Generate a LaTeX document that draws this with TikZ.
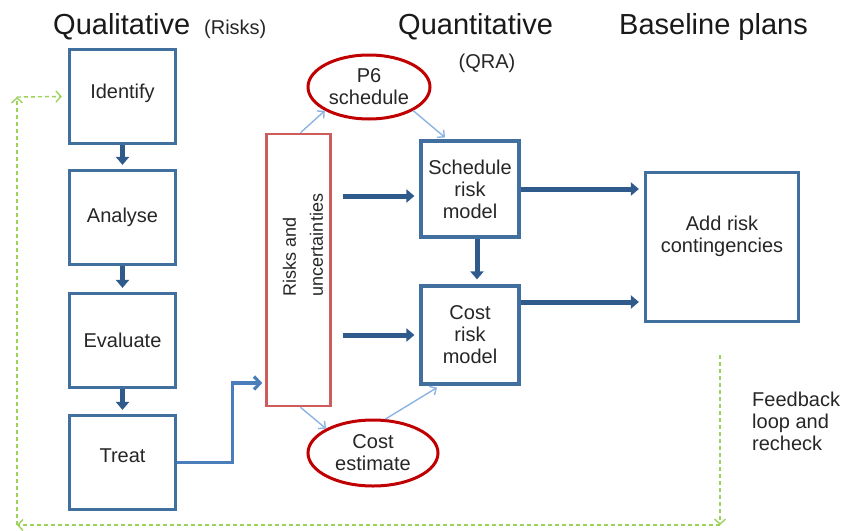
\documentclass[tikz,border=0pt]{standalone}
\usepackage{fontspec}
\setmainfont{Liberation Sans}
\usetikzlibrary{shapes.geometric,arrows.meta,calc}
\definecolor{boxblue}{HTML}{41709F}
\definecolor{arrowblue}{HTML}{2F5A8C}
\definecolor{thinblue}{HTML}{8DB3E2}
\definecolor{midblue}{HTML}{4A7EBB}
\definecolor{riskred}{HTML}{D05B5B}
\definecolor{ovalred}{HTML}{C00000}
\definecolor{loopgreen}{HTML}{9BD35A}

\begin{document}
\begin{tikzpicture}[x=1pt,y=-1pt,
  txt/.style={font=\fontsize{20}{22}\selectfont,text=black!85,align=center},
  stage/.style={txt,draw=boxblue,line width=3.2pt,minimum width=106pt,minimum height=94pt},
  qbox/.style={txt,draw=boxblue,line width=3.2pt,minimum width=98pt,minimum height=96pt},
  oval/.style={txt,ellipse,draw=ovalred,line width=3pt,inner sep=0pt},
  fatarrow/.style={draw=arrowblue,line width=5pt,-{Triangle[length=8pt,width=13pt]}},
  thinarrow/.style={draw=thinblue,line width=1.4pt,-{Straight Barb[length=5pt,width=10pt]}},
  feedline/.style={draw=loopgreen,line width=1.4pt,dash pattern=on 4pt off 3pt,-{Straight Barb[length=5pt,width=11pt]}},
  heading/.style={font=\fontsize{29}{31}\selectfont,text=black!90,anchor=base west,inner sep=0pt}]
	%\draw[help lines] (0,0) grid[step=50] (845,530);
	\useasboundingbox (0,0) rectangle (845,530);

	%TITLES
	\node[heading] (qual) at (53,34) {Qualitative};
	\node[txt,anchor=base west,inner sep=0pt] (risksttl) at (204,34) {(Risks)};
	\node[heading] (quant) at (398,34) {Quantitative};
	\node[txt,anchor=base,inner sep=0pt] (qra) at (487,68) {(QRA)};
	\node[heading] (baseline) at (619,34) {Baseline plans};

	%QUALITATIVE
	\node[stage] (identify) at (122.5,96.5) {Identify\\[-12pt]};
	\node[stage] (analyse) at (122.5,217.5) {Analyse};
	\node[stage] (evaluate) at (122.5,340.5) {Evaluate};
	\node[stage] (treat) at (122.5,462.5) {Treat\\[-8pt]};
	\foreach \a/\b in {identify/analyse,analyse/evaluate,evaluate/treat}
		\draw[fatarrow,line width=4.5pt,shorten >=4pt] (\a) -- (\b);

	\node[draw=riskred,line width=2.6pt,minimum width=64pt,minimum height=272pt] (risks) at (298.5,270) {};
	\node[rotate=90,align=left,font=\fontsize{18}{27}\selectfont,text=black!85] (riskstxt) at (303,245) {Risks and\\uncertainties};
	\draw[midblue,line width=3.2pt,-{Straight Barb[length=6pt,width=13pt]}] (treat.east) -- ++(55,0) |- ($(risks.west)+(-3,113)$);

	%QUANTITATIVE
	\node[oval,minimum width=122pt,minimum height=64pt] (p6) at (369,87) {P6\\schedule};
	\node[oval,minimum width=130pt,minimum height=66pt] (costest) at (373,453) {Cost\\estimate};
	\node[qbox] (sched) at (470,189) {Schedule\\risk\\model};
	\node[qbox,minimum height=98pt] (cost) at (470,335) {Cost\\risk\\model};

	\draw[thinarrow] ($(risks.north)+(2,0)$) -- (p6.south west);
	\draw[thinarrow] (p6.south east) -- ($(sched.north)+(-25,-2)$);
	\draw[thinarrow] ($(risks.south)+(2,0)$) -- (costest.north west);
	\draw[thinarrow] (costest.70) -- ($(cost.south)+(-33,2)$);

	\draw[fatarrow] ($(risks.east)+(11,-74)$) -- ($(sched.west)+(-5,7)$);
	\draw[fatarrow] ($(risks.east)+(11,65)$) -- ($(cost.west)+(-5,0)$);
	\draw[fatarrow] ($(sched.south)+(7,0)$) -- ($(cost.north)+(7,-5)$);

	%BASELINE
	\node[txt,draw=boxblue,line width=3.2pt,minimum width=153pt,minimum height=149pt] (add) at (722,247) {Add risk\\contingencies\\[4pt]};
	\draw[fatarrow] (sched.east) -- ($(add.west)+(-5,-58)$);
	\draw[fatarrow] ($(cost.east)+(0,-33)$) -- ($(add.west)+(-5,55)$);

	%FEEDBACK
	\node[txt,align=left,anchor=north west,inner sep=0pt] (fbtxt) at (752,392) {Feedback\\loop and\\recheck};
	\coordinate (fbtop) at (720,355);
	\coordinate (fbright) at (720,525);
	\coordinate (fbleft) at (17,525);
	\coordinate (fbup) at (17,97);
	\draw[feedline] (fbtop) -- (fbright);
	\draw[feedline] (fbright) -- (fbleft);
	\draw[feedline] (fbleft) -- (fbup);
	\draw[feedline] (fbup) -- ($(identify.west)+(-6,0)$);
\end{tikzpicture}
\end{document}
